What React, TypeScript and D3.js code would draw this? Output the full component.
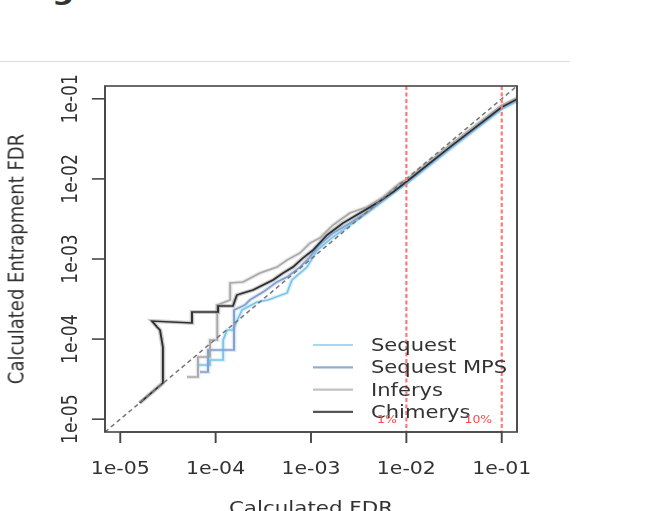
import * as d3 from "d3";

// the source picture is a square R plot stretched sideways, so everything is
// drawn in a narrower box and the svg viewBox widens it again
const K = 1.191;
const W = 670 / K;
const H = 511;

const ticks = [1e-5, 1e-4, 1e-3, 1e-2, 1e-1];
const tickLabels = ["1e-05", "1e-04", "1e-03", "1e-02", "1e-01"];
const cutoffs = [0.01, 0.1];
const cutoffLabels = ["1%", "10%"];
const seriesNames = ["Sequest", "Sequest MPS", "Inferys", "Chimerys"];

// [calculated FDR, entrapment FDR]
const sequest: [number, number][] = [
  [6.53e-5, 4.74e-5], [8.73e-5, 4.74e-5], [8.73e-5, 5.48e-5], [1.2e-4, 5.48e-5],
  [1.2e-4, 9.75e-5], [1.32e-4, 1.3e-4], [1.52e-4, 1.3e-4], [1.89e-4, 2.31e-4],
  [2.72e-4, 2.9e-4], [3.54e-4, 3.08e-4], [5.6e-4, 3.76e-4], [6.32e-4, 5.47e-4],
  [9.08e-4, 7.94e-4], [1.16e-3, 1.29e-3], [1.7e-3, 1.88e-3], [2.56e-3, 2.65e-3],
  [3.86e-3, 3.75e-3], [5.69e-3, 5.3e-3], [8.57e-3, 7.69e-3], [9.9e-3, 8.63e-3],
  [0.0287, 0.0236], [0.1, 0.0745], [0.145, 0.0938],
];

const sequestMps: [number, number][] = [
  [6.86e-5, 3.88e-5], [8.32e-5, 3.88e-5], [8.32e-5, 7.31e-5], [1.25e-4, 7.31e-5],
  [1.56e-4, 7.31e-5], [1.56e-4, 2.31e-4], [2.03e-4, 2.67e-4], [2.29e-4, 3.08e-4],
  [3.14e-4, 3.87e-4], [4.4e-4, 5.16e-4], [5.6e-4, 5.96e-4], [7.67e-4, 7.94e-4],
  [9.77e-4, 1.06e-3], [1.16e-3, 1.41e-3], [1.7e-3, 2.11e-3], [2.56e-3, 2.81e-3],
  [3.86e-3, 3.86e-3], [5.69e-3, 5.45e-3], [8.57e-3, 7.92e-3], [9.9e-3, 8.89e-3],
  [0.0287, 0.0243], [0.1, 0.0767], [0.145, 0.0966],
];

const inferys: [number, number][] = [
  [5.01e-5, 3.37e-5], [6.53e-5, 3.37e-5], [6.53e-5, 5.97e-5], [8.73e-5, 5.97e-5],
  [8.73e-5, 9.75e-5], [1.04e-4, 9.75e-5], [1.04e-4, 2.67e-4], [1.42e-4, 3.08e-4],
  [1.42e-4, 5.01e-4], [1.94e-4, 5.16e-4], [2.92e-4, 6.68e-4], [4.4e-4, 7.94e-4],
  [5.6e-4, 9.7e-4], [7.67e-4, 1.19e-3], [9.77e-4, 1.58e-3], [1.24e-3, 1.83e-3],
  [1.7e-3, 2.65e-3], [2.56e-3, 3.75e-3], [3.86e-3, 4.46e-3], [5.69e-3, 5.94e-3],
  [8.57e-3, 8.89e-3], [9.9e-3, 9.68e-3], [0.0287, 0.0265], [0.1, 0.0836],
  [0.145, 0.102],
];

const chimerys: [number, number][] = [
  [1.6e-5, 1.6e-5], [2.8e-5, 2.83e-5], [2.8e-5, 7.96e-5], [2.61e-5, 1.3e-4],
  [2.43e-5, 1.42e-4], [2.15e-5, 1.68e-4], [5.65e-5, 1.59e-4], [5.65e-5, 2.18e-4],
  [1.06e-4, 2.18e-4], [1.06e-4, 2.59e-4], [1.52e-4, 2.59e-4], [1.67e-4, 3.55e-4],
  [1.94e-4, 3.76e-4], [2.47e-4, 4.1e-4], [3.14e-4, 4.73e-4], [4.0e-4, 5.47e-4],
  [5.08e-4, 6.68e-4], [6.47e-4, 7.94e-4], [8.24e-4, 1.03e-3], [1.05e-3, 1.29e-3],
  [1.47e-3, 1.99e-3], [2.16e-3, 2.81e-3], [3.27e-3, 3.75e-3], [4.92e-3, 5.0e-3],
  [7.24e-3, 6.85e-3], [9.9e-3, 9.1e-3], [0.0287, 0.025], [0.1, 0.0789],
  [0.145, 0.0993],
];

const seriesData = [sequest, sequestMps, inferys, chimerys];
const colors = ["#7cc6ea", "#7f9fd0", "#a9a9a9", "#2e2e2e"];
const legendColors = ["#a9d7ec", "#93acd4", "#c2c2c2", "#555555"];

const font = "'DejaVu Sans', sans-serif";
const textColor = "#333333";

export default function App() {
  const left = 105 / K;
  const right = 517 / K;
  const top = 86;
  const bottom = 432;

  const domain = [Math.pow(10, -5.16), Math.pow(10, -0.84)];
  const x = d3.scaleLog().domain(domain).range([left, right]);
  const y = d3.scaleLog().domain(domain).range([bottom, top]);

  const line = d3
    .line<[number, number]>()
    .x((d) => x(d[0]))
    .y((d) => y(d[1]));

  const tickLen = 11;
  const legX = 313 / K;
  const legY = 345;
  const legStep = 22.3;

  return (
    <svg
      width={670}
      height={H}
      viewBox={`0 0 ${W} ${H}`}
      preserveAspectRatio="none"
      style={{ position: "absolute", left: 0, top: 0, display: "block", background: "#fff" }}
    >
      <defs>
        <clipPath id="plot-area">
          <rect x={left} y={top} width={right - left} height={bottom - top} />
        </clipPath>
        <filter id="soft" x="-5%" y="-5%" width="110%" height="110%">
          <feGaussianBlur stdDeviation="0.45" />
        </filter>
      </defs>

      {/* page bits above the figure */}
      <text x={52 / K} y={-1} fontFamily={font} fontWeight="bold" fontSize={26} fill={textColor}>
        g
      </text>
      <line x1={0} x2={570 / K} y1={61.5} y2={61.5} stroke="#dddddd" strokeWidth={1} />

      <g filter="url(#soft)">
        <g clipPath="url(#plot-area)" fill="none">
          {seriesData.map((s, i) => (
            <path
              key={`halo${seriesNames[i]}`}
              d={line(s) ?? ""}
              stroke={colors[i]}
              strokeOpacity={0.25}
              strokeWidth={4}
            />
          ))}
          {seriesData.map((s, i) => (
            <path key={seriesNames[i]} d={line(s) ?? ""} stroke={colors[i]} strokeWidth={1.6} />
          ))}
          <line
            x1={x(domain[0])}
            y1={y(domain[0])}
            x2={x(domain[1])}
            y2={y(domain[1])}
            stroke="#777"
            strokeWidth={1.4}
            strokeDasharray="4 3"
          />
          {cutoffs.map((c) => (
            <line
              key={c}
              x1={x(c)}
              x2={x(c)}
              y1={top}
              y2={bottom}
              stroke="#ff7676"
              strokeWidth={1.8}
              strokeDasharray="4 2.5"
            />
          ))}
        </g>

        {/* box */}
        <rect
          x={left}
          y={top}
          width={right - left}
          height={bottom - top}
          fill="none"
          stroke="#474747"
          strokeWidth={1.6}
        />

        {/* x axis */}
        <line x1={x(ticks[0])} x2={x(ticks[4])} y1={bottom} y2={bottom} stroke="#474747" strokeWidth={1.6} />
        {ticks.map((t, i) => (
          <g key={`x${t}`}>
            <line x1={x(t)} x2={x(t)} y1={bottom} y2={bottom + tickLen} stroke="#474747" strokeWidth={1.6} />
            <text
              x={x(t)}
              y={474}
              textAnchor="middle"
              fontFamily={font}
              fontSize={17.2}
              fill={textColor}
            >
              {tickLabels[i]}
            </text>
          </g>
        ))}

        {/* y axis */}
        <line x1={left} x2={left} y1={y(ticks[0])} y2={y(ticks[4])} stroke="#474747" strokeWidth={1.6} />
        {ticks.map((t, i) => (
          <g key={`y${t}`}>
            <line x1={left} x2={left - tickLen} y1={y(t)} y2={y(t)} stroke="#474747" strokeWidth={1.6} />
            <text
              transform={`translate(${77 / K},${y(t)}) rotate(-90)`}
              textAnchor="middle"
              fontFamily={font}
              fontSize={17.2}
              fill={textColor}
            >
              {tickLabels[i]}
            </text>
          </g>
        ))}

        <text
          transform={`translate(${24 / K},${(top + bottom) / 2}) rotate(-90)`}
          textAnchor="middle"
          fontFamily={font}
          fontSize={18}
          fill={textColor}
        >
          Calculated Entrapment FDR
        </text>
        <text
          x={(left + right) / 2}
          y={514}
          textAnchor="middle"
          fontFamily={font}
          fontSize={18}
          fill={textColor}
        >
          Calculated FDR
        </text>

        {/* legend */}
        {seriesNames.map((n, i) => (
          <g key={`leg${n}`}>
            <line
              x1={legX}
              x2={353 / K}
              y1={legY + i * legStep}
              y2={legY + i * legStep}
              stroke={legendColors[i]}
              strokeWidth={2.2}
            />
            <text
              x={371 / K}
              y={legY + i * legStep}
              dy="0.35em"
              fontFamily={font}
              fontSize={17.7}
              fill={textColor}
            >
              {n}
            </text>
          </g>
        ))}

        {cutoffs.map((c, i) => (
          <text
            key={`lab${c}`}
            x={x(c) - 8}
            y={y(1e-5) + 4}
            textAnchor="end"
            fontFamily={font}
            fontSize={10.5}
            fill="#ff4a4a"
          >
            {cutoffLabels[i]}
          </text>
        ))}
      </g>
    </svg>
  );
}
